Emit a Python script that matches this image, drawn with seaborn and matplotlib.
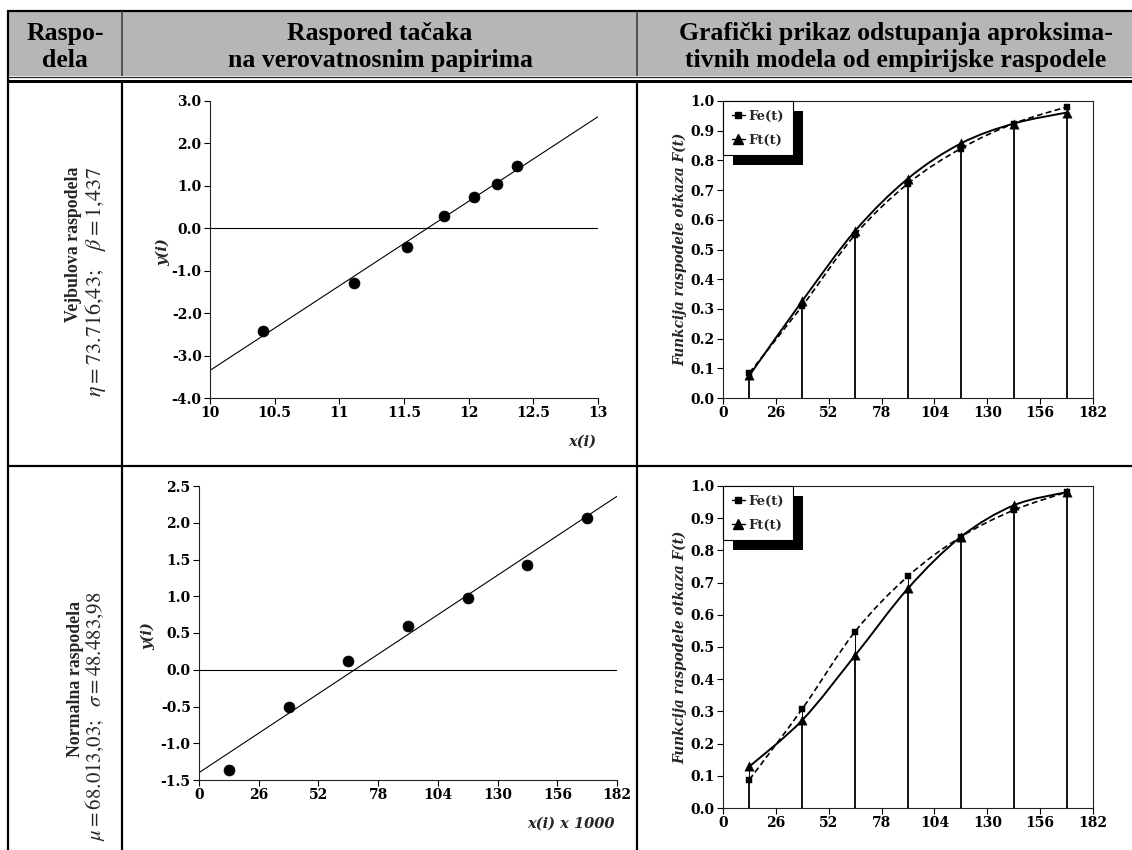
import numpy as np
import pandas as pd
import matplotlib
matplotlib.use("Agg")
import matplotlib.pyplot as plt
import seaborn as sns
from matplotlib.path import Path
from matplotlib.patches import PathPatch, Rectangle
from matplotlib.lines import Line2D
from matplotlib.font_manager import FontProperties
from matplotlib.transforms import IdentityTransform

# ---------------- data ----------------
# Weibull probability paper
w_x = [10.41, 11.11, 11.52, 11.81, 12.04, 12.22, 12.37]
w_y = [-2.43, -1.29, -0.44, 0.30, 0.74, 1.05, 1.47]
w_fit_x = [10.0, 13.0]
w_fit_y = [-3.35, 2.63]
w_xticks = [10, 10.5, 11, 11.5, 12, 12.5, 13]
w_yticks = [-4.0, -3.0, -2.0, -1.0, 0.0, 1.0, 2.0, 3.0]

# Normal probability paper
n_x = [13, 39, 65, 91, 117, 143, 169]
n_y = [-1.36, -0.50, 0.12, 0.59, 0.98, 1.43, 2.07]
n_fit_x = [0.0, 182.0]
n_fit_y = [-1.40, 2.36]
n_xticks = [0, 26, 52, 78, 104, 130, 156, 182]
n_yticks = [-1.5, -1.0, -0.5, 0.0, 0.5, 1.0, 1.5, 2.0, 2.5]

# distribution functions
t_vals = [13, 39, 65, 91, 117, 143, 169]
w_Fe = [0.085, 0.310, 0.550, 0.722, 0.840, 0.924, 0.980]
w_Ft = [0.076, 0.327, 0.563, 0.739, 0.857, 0.924, 0.961]
n_Fe = [0.088, 0.308, 0.548, 0.720, 0.842, 0.925, 0.981]
n_Ft = [0.129, 0.273, 0.474, 0.682, 0.842, 0.940, 0.981]
F_xticks = [0, 26, 52, 78, 104, 130, 156, 182]
F_yticks = [0.0, 0.1, 0.2, 0.3, 0.4, 0.5, 0.6, 0.7, 0.8, 0.9, 1.0]

header_col1 = ["Raspo-", "dela"]
header_col2 = ["Raspored tačaka", "na verovatnosnim papirima"]
header_col3 = ["Grafički prikaz odstupanja aproksima-", "tivnih modela od empirijske raspodele"]
row_names = ["Vejbulova raspodela", "Normalna raspodela"]
row_params = [r"$\eta = 73.716{,}43;\ \ \ \beta = 1{,}437$",
              r"$\mu = 68.013{,}03;\ \ \sigma = 48.483{,}98$"]

# ---------------- style ----------------
sns.set_theme(style="ticks")
plt.rcParams['font.family'] = ['DejaVu Serif']
plt.rcParams['mathtext.fontset'] = 'stix'

W, H = 1132, 850
fig = plt.figure(figsize=(W / 100, H / 100), dpi=100)
fig.patch.set_facecolor('white')

def rect(l, t, r, b):
    return [l / W, 1 - b / H, (r - l) / W, (b - t) / H]

PX = 0.72  # points per pixel

# background table
bg = fig.add_axes([0, 0, 1, 1], zorder=-10)
bg.set_xlim(0, W)
bg.set_ylim(H, 0)
bg.axis('off')
bg.add_patch(Rectangle((8, 11), W, 65, facecolor='#b6b6b6', edgecolor='none'))
bg.hlines(11, 7, W, color='black', lw=2.2 * PX)
bg.hlines(76.5, 7, W, color='#222222', lw=1.2 * PX)
bg.hlines(81, 7, W, color='black', lw=3 * PX)
bg.hlines(466, 7, W, color='black', lw=2.2 * PX)
bg.vlines(8, 10, H, color='black', lw=2.2 * PX)
bg.vlines([122, 637], 11, 76, color='#333333', lw=1.5 * PX)
bg.vlines([122, 637], 81, H, color='black', lw=2.2 * PX)

hdr_kw = dict(fontfamily='Liberation Serif', fontweight='bold', fontsize=18.5,
              ha='center', va='baseline', color='black')
for cx, lines in [(65, header_col1), (380, header_col2), (896, header_col3)]:
    bg.text(cx, 40, lines[0], **hdr_kw)
    bg.text(cx, 67, lines[1], **hdr_kw)

for (bx, by), (mx, my), name, par, fs in [((73, 244), (95, 282), row_names[0], row_params[0], 16),
                                            ((75, 679), (95, 716), row_names[1], row_params[1], 15)]:
    bg.text(bx, by, name, rotation=90, ha='center', va='center',
            fontfamily='Liberation Serif', fontweight='bold', fontsize=12.8)
    bg.text(mx, my, par, rotation=90, ha='center', va='center', fontsize=fs)

tick_font = dict(family='DejaVu Serif', weight='bold', size=10)

def style_axes(ax, box):
    ax.set_facecolor('none')
    for s in ['left', 'bottom', 'top', 'right']:
        ax.spines[s].set_color('#222222')
        ax.spines[s].set_linewidth(0.8)
    if not box:
        ax.spines['top'].set_visible(False)
        ax.spines['right'].set_visible(False)
    ax.tick_params(axis='both', direction='out', length=4, width=0.8, pad=2,
                   colors='black', top=False, right=False)
    for lab in ax.get_xticklabels() + ax.get_yticklabels():
        lab.set_fontproperties(FontProperties(**tick_font))
    ax.set_xlabel('')
    ax.set_ylabel('')

def prob_plot(ax, x, y, fx, fy, xticks, yticks, xlim, ylim, xfmt, xlabel):
    ax.axhline(0, color='black', lw=0.8, zorder=1)
    sns.lineplot(x=fx, y=fy, ax=ax, color='black', lw=0.8, zorder=2)
    sns.scatterplot(x=x, y=y, ax=ax, color='black', marker='o', s=62,
                    edgecolor='black', linewidth=0.5, zorder=3)
    ax.set_xlim(*xlim)
    ax.set_ylim(*ylim)
    ax.set_xticks(xticks)
    ax.set_xticklabels([xfmt(v) for v in xticks])
    ax.set_yticks(yticks)
    ax.set_yticklabels(['%.1f' % v for v in yticks])
    style_axes(ax, box=False)
    ax.text(-0.122, 0.49, 'y(i)', transform=ax.transAxes, rotation=90,
            ha='center', va='center', fontsize=10.5, fontweight='bold', fontstyle='italic')
    ax.text(0.995, -0.148, xlabel, transform=ax.transAxes, ha='right', va='center',
            fontsize=10.5, fontweight='bold', fontstyle='italic')

def smooth_path(xs, ys, t=1 / 6):
    pts = np.column_stack([xs, ys]).astype(float)
    n = len(pts)
    verts = [pts[0]]
    codes = [Path.MOVETO]
    for i in range(n - 1):
        p0 = pts[i - 1] if i > 0 else pts[i]
        p1 = pts[i]
        p2 = pts[i + 1]
        p3 = pts[i + 2] if i + 2 < n else pts[i + 1]
        verts += [p1 + (p2 - p0) * t, p2 - (p3 - p1) * t, p2]
        codes += [Path.CURVE4] * 3
    return Path(verts, codes)

def cdf_plot(ax, t, Fe, Ft):
    lo = np.minimum(Fe, Ft)
    hi = np.maximum(Fe, Ft)
    ax.vlines(t, 0, lo, color='black', lw=1.3, zorder=2)
    ax.vlines(t, lo, hi, color='black', lw=0.7, zorder=2)
    ax.add_patch(PathPatch(smooth_path(t, Ft), fill=False, edgecolor='black', lw=1.4, zorder=3))
    ax.add_patch(PathPatch(smooth_path(t, Fe), fill=False, edgecolor='black', lw=1.2,
                           linestyle=(0, (3.5, 2.0)), zorder=3))
    sns.scatterplot(x=t, y=Fe, ax=ax, marker='s', s=24, color='black', edgecolor='black',
                    linewidth=0.3, zorder=4)
    sns.scatterplot(x=t, y=Ft, ax=ax, marker='^', s=45, color='black', edgecolor='black',
                    linewidth=0.3, zorder=4)
    ax.set_xlim(0, 182)
    ax.set_ylim(0, 1)
    ax.set_xticks(F_xticks)
    ax.set_xticklabels([str(v) for v in F_xticks])
    ax.set_yticks(F_yticks)
    ax.set_yticklabels(['%.1f' % v for v in F_yticks])
    style_axes(ax, box=True)
    ax.text(-0.115, 0.5, 'Funkcija raspodele otkaza F(t)', transform=ax.transAxes,
            rotation=90, ha='center', va='center', fontsize=9.8, fontweight='bold',
            fontstyle='italic')
    handles = [Line2D([], [], color='black', lw=1.0, marker='s', markersize=4.5),
               Line2D([], [], color='black', lw=1.0, marker='^', markersize=6.5)]
    leg = ax.legend(handles, ['Fe(t)', 'Ft(t)'], loc='upper left', bbox_to_anchor=(0, 1),
                    borderaxespad=0, frameon=True, fancybox=False, edgecolor='black',
                    framealpha=1, prop=FontProperties(family='DejaVu Serif', weight='bold', size=9.5),
                    handlelength=1.0, handletextpad=0.3, borderpad=0.65, labelspacing=0.85)
    leg.get_frame().set_linewidth(0.8)
    leg.set_zorder(10)
    return leg

ax1 = fig.add_axes(rect(210, 101, 598, 398))
ax2 = fig.add_axes(rect(723, 101, 1093, 398))
ax3 = fig.add_axes(rect(199, 486, 617, 780))
ax4 = fig.add_axes(rect(723, 486, 1093, 808))

prob_plot(ax1, w_x, w_y, w_fit_x, w_fit_y, w_xticks, w_yticks, (10, 13), (-4, 3),
          lambda v: '%g' % v, 'x(i)')
prob_plot(ax3, n_x, n_y, n_fit_x, n_fit_y, n_xticks, n_yticks, (0, 182), (-1.5, 2.5),
          lambda v: '%d' % v, 'x(i) x 1000')
legs = [(ax2, cdf_plot(ax2, t_vals, w_Fe, w_Ft)), (ax4, cdf_plot(ax4, t_vals, n_Fe, n_Ft))]

fig.canvas.draw()
for ax, leg in legs:
    bb = leg.get_window_extent()
    sh = Rectangle((bb.x0 + 10, bb.y0 - 10), bb.width, bb.height, transform=IdentityTransform(),
                   facecolor='black', edgecolor='none', zorder=9.5, clip_on=False)
    ax.add_artist(sh)

fig.savefig('out.png', dpi=100, facecolor='white')
